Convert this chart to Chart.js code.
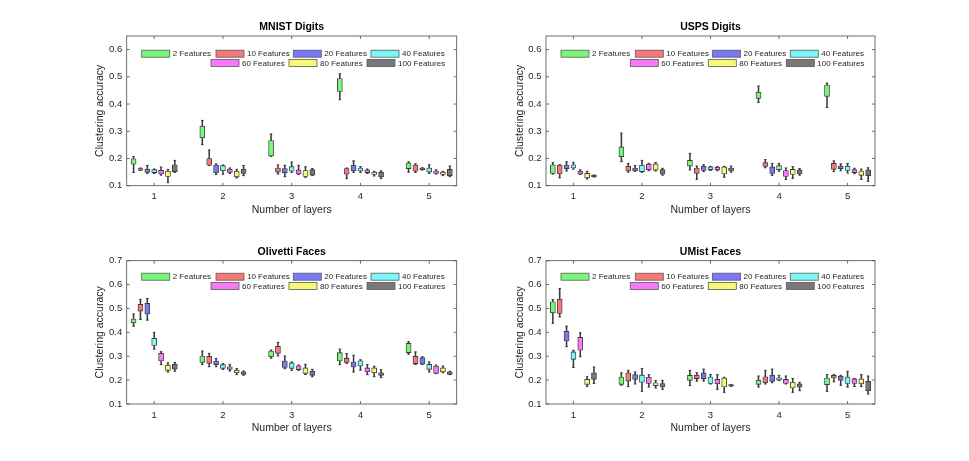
<!DOCTYPE html>
<html><head><meta charset="utf-8">
<script src="https://cdn.jsdelivr.net/npm/chart.js@4.4.0/dist/chart.umd.min.js"></script>
<style>
html,body{margin:0;padding:0;background:#fff;}
#fig{position:relative;width:969px;height:461px;overflow:hidden;background:#fff;}
.pane{position:absolute;}
</style></head><body>
<div id="fig">
 <div class="pane" style="left:0px;top:0px;width:484px;height:230px"><canvas id="c0"></canvas></div>
 <div class="pane" style="left:484px;top:0px;width:485px;height:230px"><canvas id="c1"></canvas></div>
 <div class="pane" style="left:0px;top:230px;width:484px;height:231px"><canvas id="c2"></canvas></div>
 <div class="pane" style="left:484px;top:230px;width:485px;height:231px"><canvas id="c3"></canvas></div>
</div>
<script>
// ---------------- data ----------------
const layers = [1, 2, 3, 4, 5];
const seriesNames = ['2 Features','10 Features','20 Features','40 Features','60 Features','80 Features','100 Features'];
const yTicksTop = [0.1, 0.2, 0.3, 0.4, 0.5, 0.6];
const yTicksBottom = [0.1, 0.2, 0.3, 0.4, 0.5, 0.6, 0.7];
const titles = ['MNIST Digits', 'USPS Digits', 'Olivetti Faces', 'UMist Faces'];

// each array: one row per series (2,10,20,40,60,80,100 features), one column per layer (1..5)
const mnistLow = [
 [0.149,0.251,0.207,0.416,0.150],[0.156,0.174,0.143,0.126,0.149],[0.145,0.141,0.133,0.149,0.158],
 [0.145,0.142,0.149,0.149,0.145],[0.139,0.145,0.141,0.145,0.143],[0.111,0.129,0.131,0.136,0.137],[0.149,0.137,0.137,0.126,0.133]];
const mnistQ1 = [
 [0.179,0.276,0.209,0.446,0.163],[0.157,0.175,0.150,0.142,0.153],[0.149,0.147,0.147,0.155,0.159],
 [0.148,0.155,0.153,0.154,0.150],[0.143,0.149,0.143,0.148,0.145],[0.134,0.133,0.134,0.141,0.141],[0.152,0.145,0.139,0.133,0.137]];
const mnistQ3 = [
 [0.199,0.319,0.266,0.494,0.1835],[0.163,0.200,0.165,0.163,0.176],[0.161,0.176,0.163,0.175,0.165],
 [0.159,0.174,0.170,0.165,0.165],[0.1565,0.161,0.158,0.158,0.154],[0.153,0.153,0.156,0.150,0.150],[0.177,0.161,0.159,0.149,0.160]];
const mnistHigh = [
 [0.207,0.340,0.290,0.511,0.188],[0.165,0.231,0.176,0.165,0.180],[0.174,0.180,0.175,0.191,0.166],
 [0.161,0.176,0.187,0.170,0.177],[0.168,0.165,0.175,0.161,0.158],[0.160,0.160,0.169,0.153,0.153],[0.193,0.174,0.163,0.155,0.172]];

const uspsLow = [
 [0.143,0.188,0.158,0.406,0.387],[0.129,0.150,0.123,0.166,0.152],[0.154,0.153,0.152,0.138,0.155],
 [0.161,0.149,0.156,0.153,0.147],[0.141,0.155,0.155,0.123,0.144],[0.125,0.154,0.131,0.127,0.123],[0.132,0.139,0.150,0.139,0.116]];
const uspsQ1 = [
 [0.145,0.207,0.172,0.421,0.428],[0.143,0.154,0.145,0.171,0.160],[0.163,0.155,0.156,0.145,0.163],
 [0.165,0.152,0.159,0.159,0.156],[0.143,0.158,0.158,0.134,0.148],[0.129,0.157,0.143,0.141,0.138],[0.133,0.142,0.154,0.143,0.137]];
const uspsQ3 = [
 [0.177,0.2425,0.193,0.444,0.470],[0.176,0.172,0.165,0.185,0.182],[0.176,0.165,0.172,0.169,0.172],
 [0.177,0.175,0.169,0.174,0.172],[0.153,0.179,0.168,0.156,0.159],[0.145,0.180,0.169,0.160,0.154],[0.138,0.159,0.165,0.158,0.158]];
const uspsHigh = [
 [0.185,0.293,0.219,0.466,0.477],[0.177,0.182,0.172,0.196,0.191],[0.188,0.174,0.177,0.182,0.180],
 [0.186,0.193,0.171,0.182,0.182],[0.158,0.182,0.170,0.165,0.164],[0.153,0.185,0.171,0.170,0.161],[0.139,0.164,0.172,0.163,0.166]];

const olivLow = [
 [0.426,0.265,0.292,0.265,0.309],[0.454,0.256,0.301,0.270,0.265],[0.451,0.256,0.248,0.234,0.265],
 [0.330,0.245,0.241,0.242,0.234],[0.265,0.238,0.241,0.223,0.227],[0.234,0.223,0.223,0.214,0.231],[0.237,0.221,0.214,0.210,0.223]];
const olivQ1 = [
 [0.440,0.274,0.298,0.280,0.315],[0.489,0.270,0.312,0.274,0.269],[0.477,0.265,0.253,0.255,0.267],
 [0.345,0.249,0.249,0.259,0.245],[0.280,0.245,0.244,0.235,0.228],[0.241,0.231,0.228,0.231,0.235],[0.246,0.224,0.220,0.220,0.224]];
const olivQ3 = [
 [0.4557,0.301,0.322,0.315,0.354],[0.517,0.2995,0.341,0.291,0.2995],[0.521,0.280,0.280,0.276,0.294],
 [0.375,0.265,0.272,0.281,0.266],[0.312,0.256,0.260,0.251,0.259],[0.263,0.242,0.251,0.251,0.251],[0.266,0.235,0.237,0.231,0.235]];
const olivHigh = [
 [0.4766,0.322,0.326,0.330,0.361],[0.538,0.312,0.358,0.311,0.318],[0.542,0.291,0.301,0.304,0.297],
 [0.400,0.269,0.276,0.285,0.276],[0.319,0.266,0.263,0.265,0.263],[0.272,0.248,0.266,0.258,0.259],[0.274,0.238,0.245,0.244,0.237]];

const umistLow = [
 [0.4375,0.179,0.177,0.171,0.153],[0.465,0.173,0.196,0.184,0.193],[0.340,0.184,0.196,0.189,0.178],
 [0.253,0.153,0.184,0.198,0.171],[0.298,0.171,0.161,0.184,0.173],[0.173,0.167,0.149,0.149,0.173],[0.186,0.161,0.174,0.156,0.142]];
const umistQ1 = [
 [0.482,0.182,0.199,0.182,0.181],[0.479,0.196,0.206,0.189,0.209],[0.364,0.203,0.206,0.195,0.199],
 [0.287,0.191,0.186,0.200,0.186],[0.325,0.186,0.185,0.186,0.186],[0.182,0.177,0.171,0.167,0.184],[0.203,0.171,0.175,0.170,0.156]];
const umistQ3 = [
 [0.528,0.213,0.220,0.200,0.209],[0.539,0.231,0.221,0.214,0.220],[0.404,0.223,0.230,0.221,0.217],
 [0.318,0.221,0.213,0.210,0.213],[0.379,0.212,0.203,0.203,0.205],[0.203,0.189,0.209,0.191,0.205],[0.231,0.186,0.181,0.184,0.195]];
const umistHigh = [
 [0.538,0.230,0.241,0.217,0.223],[0.584,0.241,0.231,0.241,0.223],[0.426,0.234,0.246,0.246,0.220],
 [0.325,0.249,0.223,0.220,0.237],[0.398,0.223,0.223,0.217,0.207],[0.214,0.198,0.212,0.207,0.223],[0.255,0.199,0.182,0.191,0.217]];

// ---------------- style ----------------
const seriesColors = ['#78f878','#f87878','#7878f8','#78f8f8','#f878f8','#f8f878','#787878'];
const FONT = "'Liberation Sans', Arial, Helvetica, sans-serif";
const INK = '#262626';

const matlabAxes = {
  id: 'matlabAxes',
  afterDraw(chart) {
    const {ctx, chartArea: a, scales: {x, y}} = chart;
    ctx.save();
    ctx.strokeStyle = '#4a4a4a';
    ctx.lineWidth = 0.8;
    ctx.strokeRect(a.left, a.top, a.right - a.left, a.bottom - a.top);
    const tl = 3;
    ctx.beginPath();
    x.ticks.forEach(t => {
      const px = x.getPixelForValue(t.value);
      ctx.moveTo(px, a.bottom); ctx.lineTo(px, a.bottom - tl);
      ctx.moveTo(px, a.top); ctx.lineTo(px, a.top + tl);
    });
    y.ticks.forEach(t => {
      const py = y.getPixelForValue(t.value);
      ctx.moveTo(a.left, py); ctx.lineTo(a.left + tl, py);
      ctx.moveTo(a.right, py); ctx.lineTo(a.right - tl, py);
    });
    ctx.stroke();
    ctx.restore();
  }
};

const matlabLegend = {
  id: 'matlabLegend',
  afterDraw(chart, args, opts) {
    const {ctx, chartArea: a} = chart;
    const items = chart.data.datasets.filter(d => d.isBox);
    const pos = [[15,0],[89.3,0],[166.6,0],[244.3,0],[84.3,1],[162.3,1],[240.3,1]];
    ctx.save();
    ctx.font = '8px ' + FONT;
    ctx.textBaseline = 'middle';
    ctx.textAlign = 'left';
    items.forEach((d, i) => {
      const [dx, row] = pos[i];
      const cy = a.top + (row === 0 ? opts.row1 : opts.row2);
      const px = a.left + dx;
      ctx.fillStyle = d.backgroundColor;
      ctx.fillRect(px, cy - 3.5, 28, 7);
      ctx.strokeStyle = '#5a5a5a';
      ctx.lineWidth = 0.8;
      ctx.strokeRect(px, cy - 3.5, 28, 7);
      ctx.fillStyle = INK;
      ctx.fillText(d.label, px + 31, cy + 0.5);
    });
    ctx.restore();
  }
};

function buildDatasets(low, q1, q3, high) {
  const ds = [];
  seriesNames.forEach((name, i) => {
    const off = (i - 3) * 0.1;
    ds.push({
      type: 'bar', label: name, isBox: true,
      data: layers.map((L, j) => ({x: L + off, y: [q1[i][j], q3[i][j]]})),
      backgroundColor: seriesColors[i], borderColor: '#3c3c3c', borderWidth: 0.9,
      borderSkipped: false, barThickness: 5, grouped: false, order: 1
    });
    ds.push({
      type: 'bar', label: name + ' whisker',
      data: layers.map((L, j) => ({x: L + off, y: [low[i][j], high[i][j]]})),
      backgroundColor: '#3a3a3a', borderWidth: 0, barThickness: 0.9, grouped: false, order: 2
    });
    ds.push({
      type: 'scatter', label: name + ' caps',
      data: layers.flatMap((L, j) => [{x: L + off, y: low[i][j]}, {x: L + off, y: high[i][j]}]),
      pointStyle: 'line', pointRadius: 1.3, borderColor: '#3a3a3a', borderWidth: 0.9, order: 0
    });
  });
  return ds;
}

function makeChart(id, title, yTicks, yMax, dsArgs, geo) {
  new Chart(document.getElementById(id), {
    type: 'bar',
    data: {datasets: buildDatasets(...dsArgs)},
    plugins: [matlabAxes, matlabLegend],
    options: {
      responsive: true, maintainAspectRatio: false, animation: false, events: [],
      layout: {padding: {left: 0, right: geo.right, top: 0, bottom: 0}},
      plugins: {
        legend: {display: false}, tooltip: {enabled: false},
        title: {display: true, text: title, color: '#000', fullSize: false,
          font: {family: FONT, size: 10.5, weight: 'bold'},
          padding: {top: geo.titleTop, bottom: geo.titleBottom}},
        matlabLegend: {row1: geo.row1, row2: geo.row2}
      },
      scales: {
        x: {
          type: 'linear', min: 0.6, max: 5.4, offset: false,
          grid: {display: false, drawTicks: false}, border: {display: false},
          afterBuildTicks: s => { s.ticks = layers.map(v => ({value: v})); },
          afterFit: s => { s.height = geo.xH; },
          ticks: {color: INK, font: {family: FONT, size: 9.5}, padding: geo.xPad, maxRotation: 0,
            callback: v => String(v)},
          title: {display: true, text: 'Number of layers', color: INK,
            font: {family: FONT, size: 10.5}, padding: {top: 0, bottom: geo.xTitleBottom}}
        },
        y: {
          type: 'linear', min: 0.1, max: yMax,
          grid: {display: false, drawTicks: false}, border: {display: false},
          afterBuildTicks: s => { s.ticks = yTicks.map(v => ({value: v})); },
          afterFit: s => { s.width = geo.yW; },
          ticks: {color: INK, font: {family: FONT, size: 9.5}, padding: 4.5,
            callback: v => Number(v).toFixed(1)},
          title: {display: true, text: 'Clustering accuracy', color: INK,
            font: {family: FONT, size: 10.5}, padding: {top: geo.yTitle, bottom: 0}}
        }
      }
    }
  });
}

const geoTL = {right: 27.3, titleTop: 21, titleBottom: 2.4, xH: 44.3, xPad: 4.5, xTitleBottom: 13.7, yW: 126.7, yTitle: 93.7, row1: 17.7, row2: 27};
const geoTR = Object.assign({}, geoTL, {right: 94, yW: 62, yTitle: 29.7});
const geoBL = {right: 27.3, titleTop: 16, titleBottom: 2.1, xH: 57, xPad: 6, xTitleBottom: 26.4, yW: 126.7, yTitle: 93.7, row1: 16, row2: 25.3};
const geoBR = Object.assign({}, geoBL, {right: 94, yW: 62, yTitle: 29.7});

makeChart('c0', titles[0], yTicksTop, 0.65, [mnistLow, mnistQ1, mnistQ3, mnistHigh], geoTL);
makeChart('c1', titles[1], yTicksTop, 0.65, [uspsLow, uspsQ1, uspsQ3, uspsHigh], geoTR);
makeChart('c2', titles[2], yTicksBottom, 0.7, [olivLow, olivQ1, olivQ3, olivHigh], geoBL);
makeChart('c3', titles[3], yTicksBottom, 0.7, [umistLow, umistQ1, umistQ3, umistHigh], geoBR);
</script>
</body></html>
